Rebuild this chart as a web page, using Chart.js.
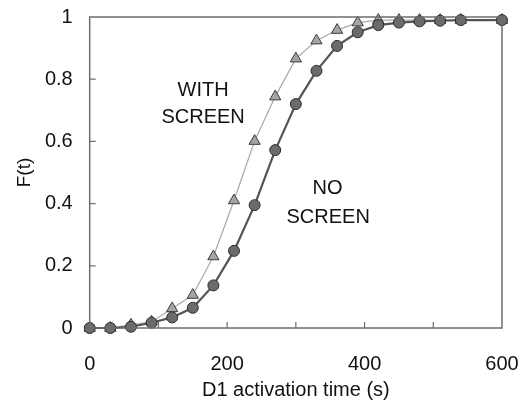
<!DOCTYPE html>
<html>
<head>
<meta charset="utf-8">
<script src="https://cdn.jsdelivr.net/npm/chart.js@4/dist/chart.umd.min.js"></script>
<style>
  html, body { margin: 0; padding: 0; background: #fff; }
  #wrap { width: 532px; height: 400px; position: relative; }
</style>
</head>
<body>
<div id="wrap"><canvas id="chart" width="532" height="400"></canvas></div>
<script>
// activation times (s)
const times = [0, 30, 60, 90, 120, 150, 180, 210, 240, 270, 300, 330, 360, 390, 420, 450, 480, 510, 540, 600];
// F(t)
const noScreen   = [0, 0, 0.004, 0.017, 0.034, 0.065, 0.137, 0.248, 0.395, 0.572, 0.72, 0.827, 0.907, 0.951, 0.974, 0.982, 0.986, 0.988, 0.99, 0.99];
const withScreen = [0, 0, 0.01, 0.02, 0.063, 0.106, 0.23, 0.41, 0.601, 0.744, 0.866, 0.924, 0.958, 0.982, 0.99, 0.99, 0.99, 0.99, 0.99, 0.99];
const xLabels = [0, 200, 400, 600];
const yLabels = [0, 0.2, 0.4, 0.6, 0.8, 1];

const FONT = '"Liberation Sans", Arial, Helvetica, sans-serif';

const toPoints = (ys) => times.map((t, i) => ({ x: t, y: ys[i] }));

// box around plot + inward ticks + the two curve labels
const framePlugin = {
    id: 'frame',
    afterDraw(chart) {
        const { ctx, chartArea: a, scales: { x, y } } = chart;
        ctx.save();
        ctx.strokeStyle = '#6e6e6e';
        ctx.lineWidth = 1.5;
        ctx.strokeRect(a.left, a.top, a.right - a.left, a.bottom - a.top);

        ctx.lineWidth = 1.2;
        ctx.beginPath();
        x.ticks.forEach(t => {
            if (t.value <= x.min || t.value >= x.max) return;
            const px = x.getPixelForValue(t.value);
            ctx.moveTo(px, a.bottom);
            ctx.lineTo(px, a.bottom - 6);
        });
        y.ticks.forEach(t => {
            if (t.value <= y.min || t.value >= y.max) return;
            const py = y.getPixelForValue(t.value);
            ctx.moveTo(a.left, py);
            ctx.lineTo(a.left + 6, py);
        });
        ctx.stroke();

        ctx.fillStyle = '#111';
        ctx.font = '20px ' + FONT;
        ctx.textAlign = 'center';
        ctx.textBaseline = 'middle';
        ctx.fillText('WITH', x.getPixelForValue(165), y.getPixelForValue(0.765));
        ctx.fillText('SCREEN', x.getPixelForValue(165), y.getPixelForValue(0.678));
        ctx.fillText('NO', x.getPixelForValue(346), y.getPixelForValue(0.447));
        ctx.fillText('SCREEN', x.getPixelForValue(347), y.getPixelForValue(0.355));
        ctx.restore();
    }
};

new Chart(document.getElementById('chart'), {
    type: 'line',
    data: {
        datasets: [
            {
                label: 'NO SCREEN',
                data: toPoints(noScreen),
                borderColor: '#555555',
                borderWidth: 2.2,
                pointStyle: 'circle',
                pointRadius: 5.5,
                pointBackgroundColor: '#6b6b6b',
                pointBorderColor: '#2e2e2e',
                pointBorderWidth: 1,
                tension: 0,
                clip: false
            },
            {
                label: 'WITH SCREEN',
                data: toPoints(withScreen),
                borderColor: '#a8a8a8',
                borderWidth: 1.2,
                pointStyle: 'triangle',
                pointRadius: 6.5,
                pointBackgroundColor: '#a5a5a5',
                pointBorderColor: '#3c3c3c',
                pointBorderWidth: 1,
                tension: 0,
                clip: false
            }
        ]
    },
    options: {
        responsive: false,
        animation: false,
        layout: { padding: { top: 17, right: 30, left: 0, bottom: 0 } },
        plugins: { legend: { display: false }, tooltip: { enabled: false } },
        scales: {
            x: {
                type: 'linear',
                min: 0,
                max: 600,
                afterFit: (s) => { s.height = 72; s.paddingLeft = 0; s.paddingRight = 0; },
                grid: { display: false, drawTicks: false },
                border: { display: false },
                ticks: {
                    stepSize: 100,
                    maxRotation: 0,
                    autoSkip: false,
                    padding: 24,
                    color: '#111',
                    font: { family: FONT, size: 20 },
                    callback: (v) => xLabels.includes(v) ? String(v) : ''
                },
                title: {
                    display: true,
                    text: 'D1 activation time (s)',
                    color: '#111',
                    font: { family: FONT, size: 20, lineHeight: 1 },
                    padding: { top: 0, bottom: 0 }
                }
            },
            y: {
                min: 0,
                max: 1,
                afterFit: (s) => { s.width = 89.7; s.paddingTop = 0; s.paddingBottom = 0; },
                grid: { display: false, drawTicks: false },
                border: { display: false },
                ticks: {
                    stepSize: 0.2,
                    padding: 17,
                    color: '#111',
                    font: { family: FONT, size: 20 },
                    callback: (v) => {
                        const r = Math.round(v * 10) / 10;
                        return yLabels.includes(r) ? String(r) : '';
                    }
                },
                title: {
                    display: true,
                    text: 'F(t)',
                    color: '#111',
                    font: { family: FONT, size: 19, lineHeight: 1.2 },
                    padding: { top: 13, bottom: 0 }
                }
            }
        }
    },
    plugins: [framePlugin]
});
</script>
</body>
</html>
